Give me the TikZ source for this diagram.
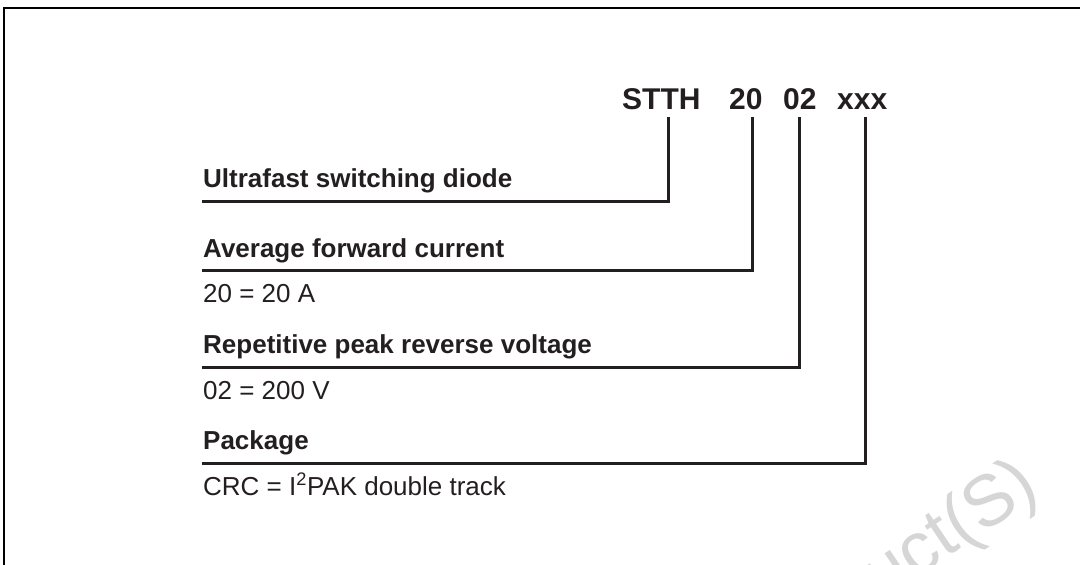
\documentclass[tikz,border=0pt]{standalone}
\usepackage{fontspec}
\setmainfont{Liberation Sans}
\definecolor{ink}{HTML}{231F20}
\definecolor{wmark}{HTML}{D6D6D6}
\begin{document}
\begin{tikzpicture}[x=1pt,y=-1pt,
  title/.style={inner sep=0pt,anchor=base west,text=ink,font=\fontsize{30}{34}\selectfont\bfseries},
  label/.style={inner sep=0pt,anchor=base west,text=ink,font=\fontsize{26}{30}\selectfont\bfseries},
  value/.style={inner sep=0pt,anchor=base west,text=ink,font=\fontsize{26}{30}\selectfont},
  lead/.style={draw=ink,line width=3pt,line join=miter},
  frame/.style={draw=black,line width=2pt}]
\useasboundingbox (0,0) rectangle (1080,565);
\begin{scope}
\clip (0,0) rectangle (1080,565);
% watermark
\node[inner sep=0pt,anchor=base east,rotate=34,text=wmark,
  font=\fontsize{72}{78}\selectfont] (wm) at (1042,494) {uct(S)};
% frame
\draw[frame] (3.5,570) -- (3.5,7.5) -- (1085,7.5);
\end{scope}
% title parts
\node[title] (stth) at (622,109) {STTH};
\node[title] (cur)  at (729,109) {20};
\node[title] (volt) at (783,109) {02};
\node[title] (pkg)  at (837,109) {xxx};
% labels
\node[label] (l1) at (203,187) {Ultrafast switching diode};
\node[label] (l2) at (203,257) {Average forward current};
\node[value] (v2) at (203,302) {20 = 20 A};
\node[label] (l3) at (203,353) {Repetitive peak reverse voltage};
\node[value] (v3) at (203,399) {02 = 200 V};
\node[label] (l4) at (203,449) {Package};
\node[value] (v4) at (203,495) {CRC = I\textsuperscript{2}PAK double track};
% line ends
\coordinate (e1) at (202,201);
\coordinate (e2) at (202,270);
\coordinate (e3) at (202,367);
\coordinate (e4) at (202,463);
% leaders
\draw[lead] (stth.south -| 668,0) ++(0,8) -- (668,201) -- (e1);
\draw[lead] (cur.south -| 752,0) ++(0,8) -- (752,270) -- (e2);
\draw[lead] (volt.south -| 799,0) ++(0,8) -- (799,367) -- (e3);
\draw[lead] (pkg.south -| 865,0) ++(0,8) -- (865,463) -- (e4);
\end{tikzpicture}
\end{document}
